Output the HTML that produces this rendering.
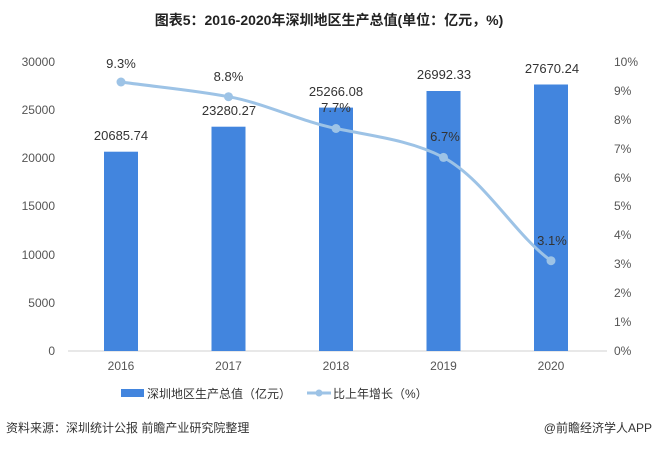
<!DOCTYPE html>
<html><head><meta charset="utf-8"><style>
body{margin:0;background:#fff;}
svg{display:block;font-family:"Liberation Sans","Noto Sans CJK SC",sans-serif;}
</style></head><body>
<svg width="658" height="449" viewBox="0 0 658 449" xmlns="http://www.w3.org/2000/svg">
<text x="329" y="25" text-anchor="middle" font-size="14" font-weight="bold" fill="#222">图表5：2016-2020年深圳地区生产总值(单位：亿元，%)</text>
<g font-size="12" fill="#555" text-anchor="end">
<text x="55" y="66">30000</text><text x="55" y="114">25000</text><text x="55" y="162">20000</text>
<text x="55" y="210">15000</text><text x="55" y="259">10000</text><text x="55" y="307">5000</text><text x="55" y="355">0</text>
</g>
<g font-size="12" fill="#555">
<text x="614" y="66">10%</text><text x="614" y="95">9%</text><text x="614" y="124">8%</text><text x="614" y="153">7%</text>
<text x="614" y="182">6%</text><text x="614" y="210">5%</text><text x="614" y="239">4%</text><text x="614" y="268">3%</text>
<text x="614" y="297">2%</text><text x="614" y="326">1%</text><text x="614" y="355">0%</text>
</g>
<line x1="68" y1="351" x2="607" y2="351" stroke="#d0d0d0"/>
<g fill="#4285de">
<rect x="104" y="151.7" width="34" height="199.3"/>
<rect x="211.5" y="126.7" width="34" height="224.3"/>
<rect x="319" y="107.6" width="34" height="243.4"/>
<rect x="426.5" y="91" width="34" height="260"/>
<rect x="534" y="84.5" width="34" height="266.5"/>
</g>
<g font-size="12" fill="#555" text-anchor="middle">
<text x="121" y="370">2016</text><text x="228.5" y="370">2017</text><text x="336" y="370">2018</text><text x="443.5" y="370">2019</text><text x="551" y="370">2020</text>
</g>
<path d="M121,82 C157,87 193,90 228.5,96.7 C264,103 300,121 336,128.5 C372,136 410,140 443.5,157.4 C485,180 515,235 551,260.7" fill="none" stroke="#9dc3e6" stroke-width="3"/>
<g fill="#9dc3e6">
<circle cx="121" cy="82" r="4.5"/><circle cx="228.5" cy="96.7" r="4.5"/><circle cx="336" cy="128.5" r="4.5"/><circle cx="443.5" cy="157.4" r="4.5"/><circle cx="551" cy="260.7" r="4.5"/>
</g>
<g font-size="13" fill="#333" text-anchor="middle">
<text x="121" y="68">9.3%</text><text x="228.5" y="81">8.8%</text><text x="336" y="112">7.7%</text><text x="445" y="141">6.7%</text><text x="552" y="245">3.1%</text>
<text x="121" y="140">20685.74</text><text x="229" y="115">23280.27</text><text x="336" y="96">25266.08</text><text x="444" y="79">26992.33</text><text x="552" y="73">27670.24</text>
</g>
<rect x="121" y="389" width="23" height="8" fill="#4285de"/>
<text x="147" y="398" font-size="12" fill="#333">深圳地区生产总值（亿元）</text>
<line x1="307" y1="393" x2="331" y2="393" stroke="#9dc3e6" stroke-width="3"/>
<circle cx="319" cy="393" r="3.5" fill="#9dc3e6"/>
<text x="333" y="398" font-size="12" fill="#333">比上年增长（%）</text>
<text x="6" y="432" font-size="12" fill="#333">资料来源：深圳统计公报 前瞻产业研究院整理</text>
<text x="652" y="432" font-size="12" fill="#333" text-anchor="end">@前瞻经济学人APP</text>
</svg>
</body></html>
